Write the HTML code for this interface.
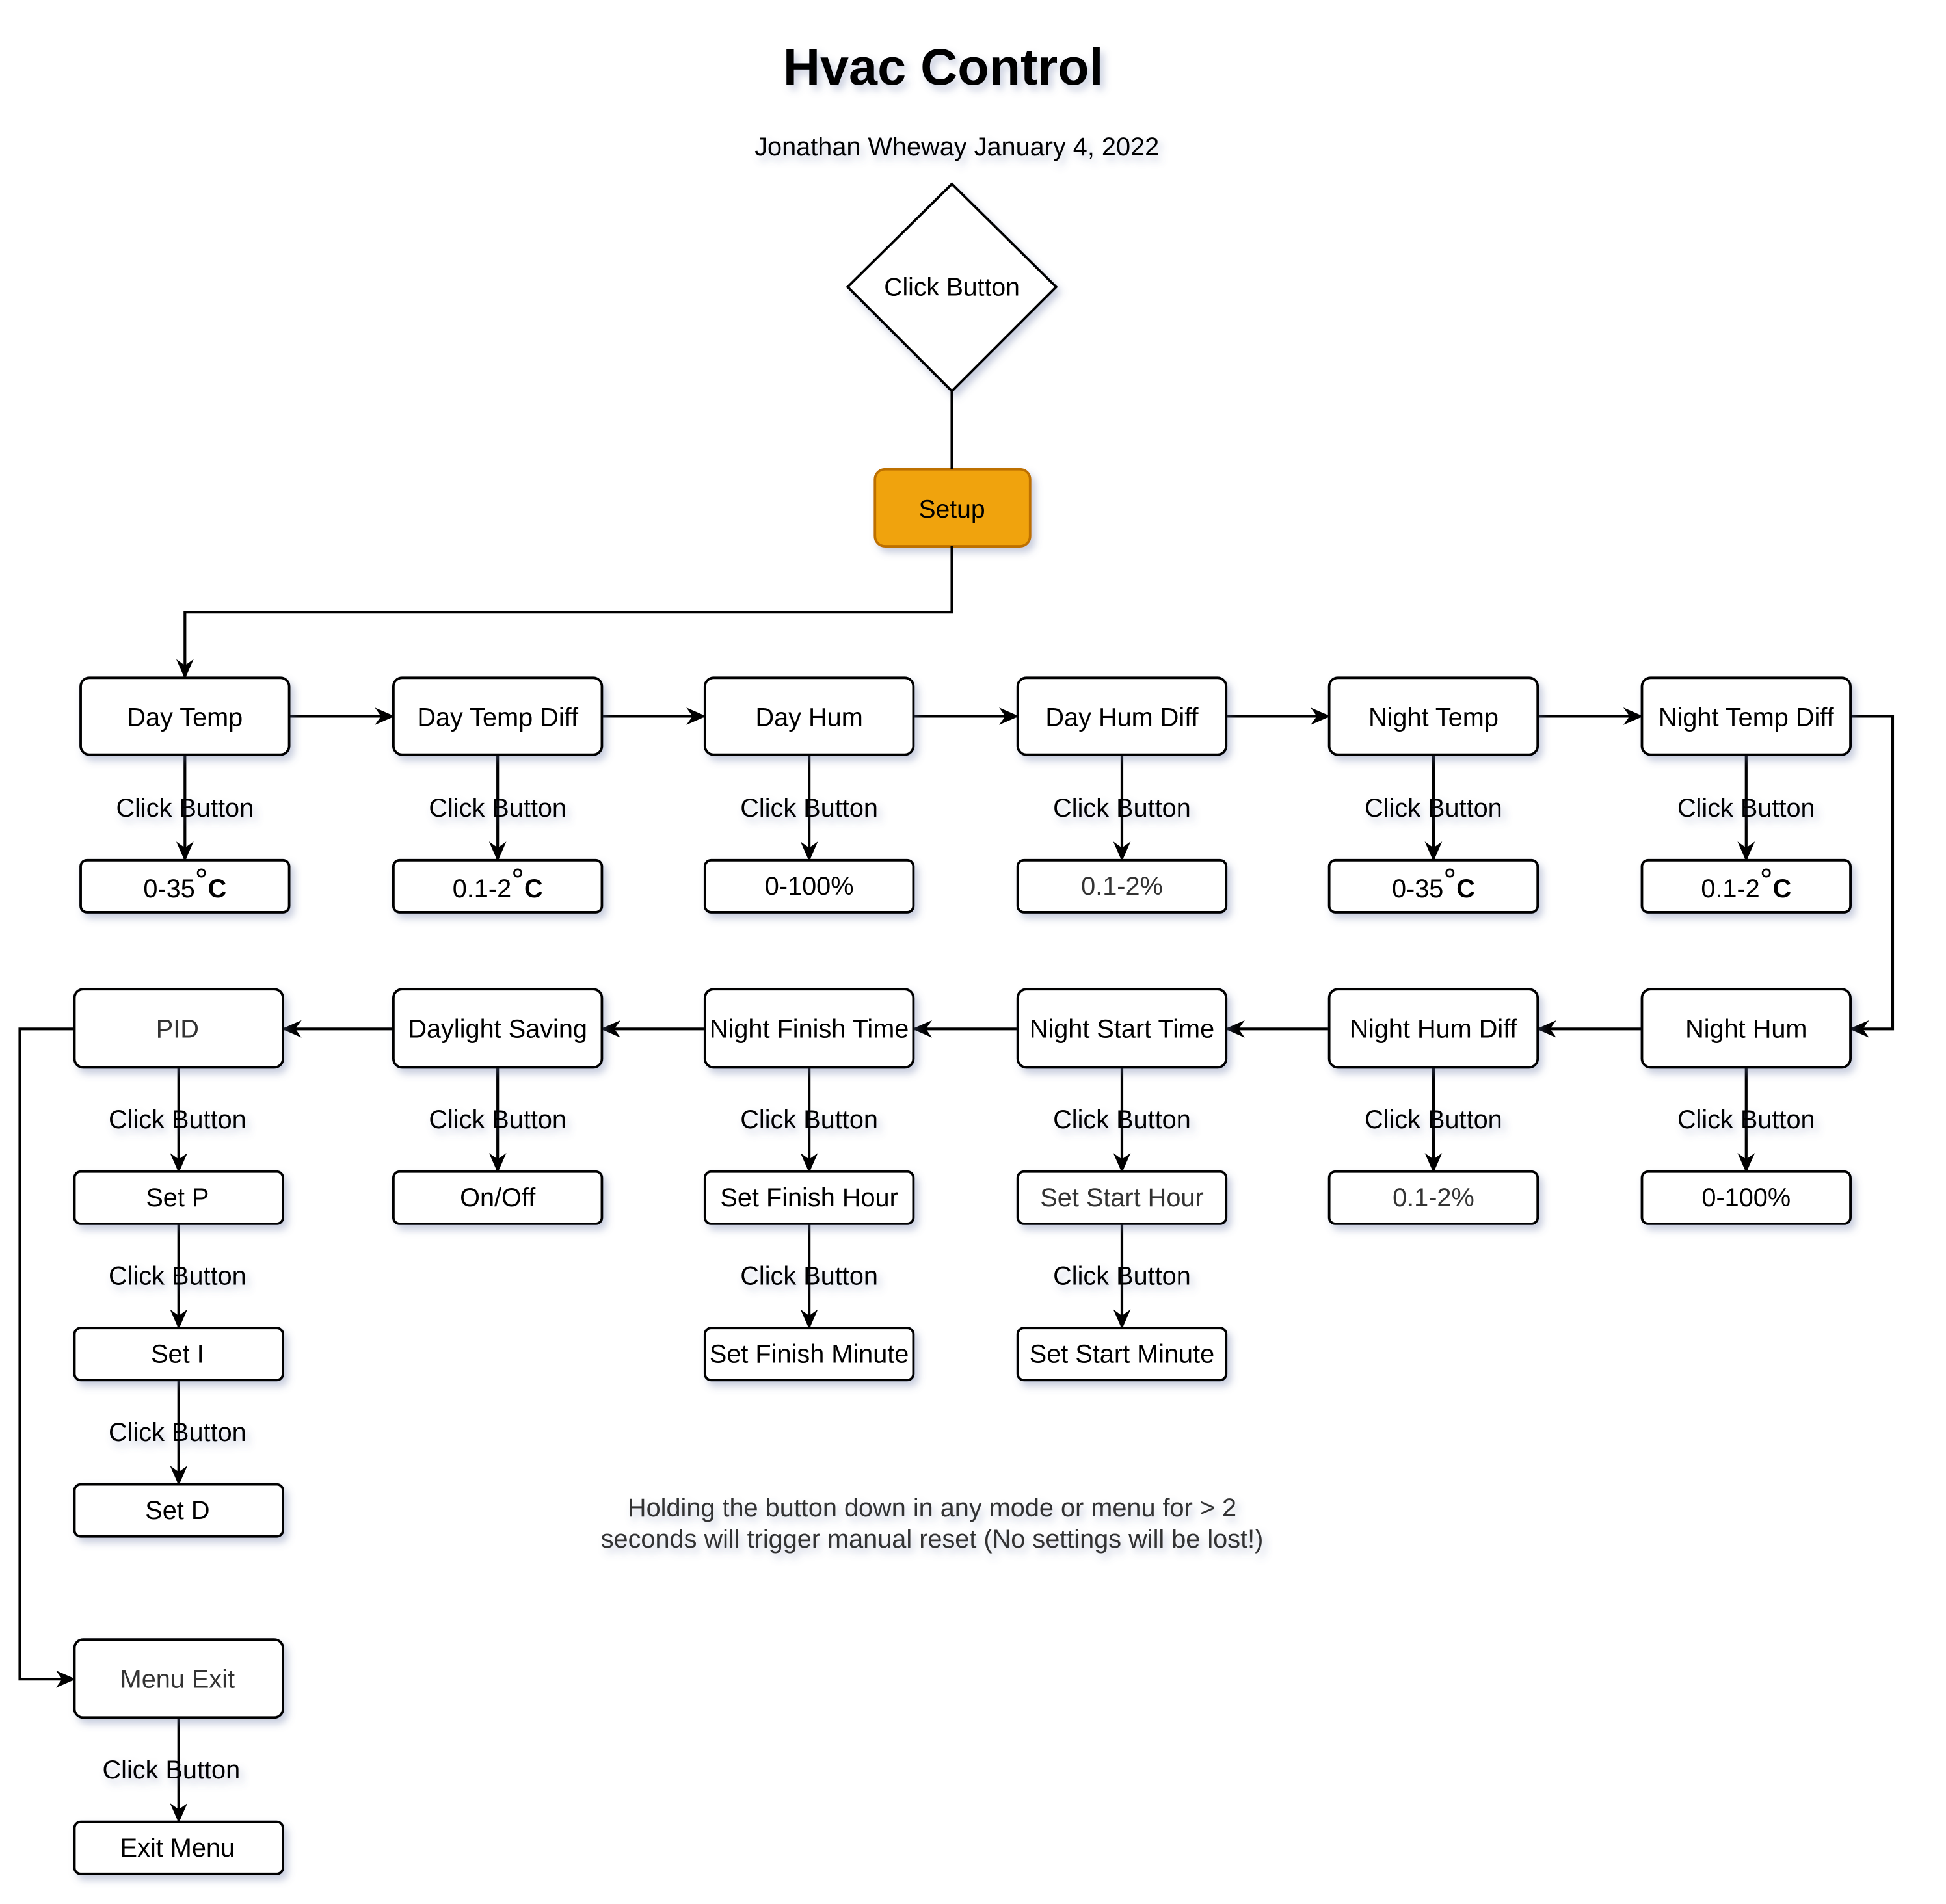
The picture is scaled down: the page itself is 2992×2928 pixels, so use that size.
<!DOCTYPE html>
<html><head><meta charset="utf-8"><style>html,body{margin:0;padding:0;background:#fff}svg{display:block}</style></head>
<body>
<svg xmlns="http://www.w3.org/2000/svg" width="2992" height="2928" viewBox="0 0 1568 1534" font-family="Liberation Sans, Arial, sans-serif">
<defs>
<filter id="sh" x="-20%" y="-20%" width="150%" height="160%"><feDropShadow dx="3" dy="4" stdDeviation="3" flood-color="#6070a0" flood-opacity="0.35"/></filter>
<marker id="ar" markerWidth="16" markerHeight="14" refX="15" refY="7" orient="auto" markerUnits="userSpaceOnUse" viewBox="0 0 16 14"><path d="M0,0 L16,7 L0,14 L5,7 Z" fill="#000"/></marker>
</defs>
<g filter="url(#sh)">
<text x="760" y="68" text-anchor="middle" font-size="41.5" font-weight="bold">Hvac Control</text>
<text x="771" y="125" text-anchor="middle" font-size="20.8">Jonathan Wheway January 4, 2022</text>
<path d="M767,148 L851,231 L767,315 L683,231 Z" fill="#fff" stroke="#000" stroke-width="2"/>
<text x="767" y="238" text-anchor="middle" font-size="20.5">Click Button</text>
<rect x="705" y="378" width="125" height="62" rx="8" fill="#f0a30a" stroke="#bd7000" stroke-width="2"/>
<text x="767" y="417" text-anchor="middle" font-size="20.5">Setup</text>
</g>
<g stroke="#000" stroke-width="2.2" fill="none">
<path d="M767,315 V378"/>
<path d="M767,440 V493 H149 V546" marker-end="url(#ar)"/>
<path d="M233,577 H317" marker-end="url(#ar)"/>
<path d="M485,577 H568" marker-end="url(#ar)"/>
<path d="M736,577 H820" marker-end="url(#ar)"/>
<path d="M988,577 H1071" marker-end="url(#ar)"/>
<path d="M1239,577 H1323" marker-end="url(#ar)"/>
<path d="M1491,577 H1525 V829 H1491" marker-end="url(#ar)"/>
<path d="M1323,829 H1239" marker-end="url(#ar)"/>
<path d="M1071,829 H988" marker-end="url(#ar)"/>
<path d="M820,829 H736" marker-end="url(#ar)"/>
<path d="M568,829 H485" marker-end="url(#ar)"/>
<path d="M317,829 H228" marker-end="url(#ar)"/>
<path d="M60,829 H16 V1353 H60" marker-end="url(#ar)"/>
<path d="M149,608 V693" marker-end="url(#ar)"/>
<path d="M401,608 V693" marker-end="url(#ar)"/>
<path d="M652,608 V693" marker-end="url(#ar)"/>
<path d="M904,608 V693" marker-end="url(#ar)"/>
<path d="M1155,608 V693" marker-end="url(#ar)"/>
<path d="M1407,608 V693" marker-end="url(#ar)"/>
<path d="M144,860 V944" marker-end="url(#ar)"/>
<path d="M401,860 V944" marker-end="url(#ar)"/>
<path d="M652,860 V944" marker-end="url(#ar)"/>
<path d="M904,860 V944" marker-end="url(#ar)"/>
<path d="M1155,860 V944" marker-end="url(#ar)"/>
<path d="M1407,860 V944" marker-end="url(#ar)"/>
<path d="M144,986 V1070" marker-end="url(#ar)"/>
<path d="M652,986 V1070" marker-end="url(#ar)"/>
<path d="M904,986 V1070" marker-end="url(#ar)"/>
<path d="M144,1112 V1196" marker-end="url(#ar)"/>
<path d="M144,1384 V1468" marker-end="url(#ar)"/>
</g>
<g filter="url(#sh)" fill="#fff" stroke="#000" stroke-width="2">
<rect x="65" y="546" width="168" height="62" rx="7"/><rect x="317" y="546" width="168" height="62" rx="7"/><rect x="568" y="546" width="168" height="62" rx="7"/><rect x="820" y="546" width="168" height="62" rx="7"/><rect x="1071" y="546" width="168" height="62" rx="7"/><rect x="1323" y="546" width="168" height="62" rx="7"/>
<rect x="65" y="693" width="168" height="42" rx="5"/><rect x="317" y="693" width="168" height="42" rx="5"/><rect x="568" y="693" width="168" height="42" rx="5"/><rect x="820" y="693" width="168" height="42" rx="5"/><rect x="1071" y="693" width="168" height="42" rx="5"/><rect x="1323" y="693" width="168" height="42" rx="5"/>
<rect x="60" y="797" width="168" height="63" rx="7"/><rect x="317" y="797" width="168" height="63" rx="7"/><rect x="568" y="797" width="168" height="63" rx="7"/><rect x="820" y="797" width="168" height="63" rx="7"/><rect x="1071" y="797" width="168" height="63" rx="7"/><rect x="1323" y="797" width="168" height="63" rx="7"/>
<rect x="60" y="944" width="168" height="42" rx="5"/><rect x="317" y="944" width="168" height="42" rx="5"/><rect x="568" y="944" width="168" height="42" rx="5"/><rect x="820" y="944" width="168" height="42" rx="5"/><rect x="1071" y="944" width="168" height="42" rx="5"/><rect x="1323" y="944" width="168" height="42" rx="5"/>
<rect x="60" y="1070" width="168" height="42" rx="5"/><rect x="568" y="1070" width="168" height="42" rx="5"/><rect x="820" y="1070" width="168" height="42" rx="5"/>
<rect x="60" y="1196" width="168" height="42" rx="5"/>
<rect x="60" y="1321" width="168" height="63" rx="7"/>
<rect x="60" y="1468" width="168" height="42" rx="5"/>
</g>
<g font-size="20.8" text-anchor="middle" fill="#000">
<text x="149" y="585">Day Temp</text><text x="401" y="585">Day Temp Diff</text><text x="652" y="585">Day Hum</text><text x="904" y="585">Day Hum Diff</text><text x="1155" y="585">Night Temp</text><text x="1407" y="585">Night Temp Diff</text>
<text x="149" y="723">0-35<tspan dy="-5" font-size="26">°</tspan><tspan dy="5" font-weight="bold">C</tspan></text><text x="401" y="723">0.1-2<tspan dy="-5" font-size="26">°</tspan><tspan dy="5" font-weight="bold">C</tspan></text><text x="652" y="721">0-100%</text><text x="904" y="721" fill="#333">0.1-2%</text><text x="1155" y="723">0-35<tspan dy="-5" font-size="26">°</tspan><tspan dy="5" font-weight="bold">C</tspan></text><text x="1407" y="723">0.1-2<tspan dy="-5" font-size="26">°</tspan><tspan dy="5" font-weight="bold">C</tspan></text>
<text x="143" y="836" fill="#333">PID</text><text x="401" y="836">Daylight Saving</text><text x="652" y="836">Night Finish Time</text><text x="904" y="836">Night Start Time</text><text x="1155" y="836">Night Hum Diff</text><text x="1407" y="836">Night Hum</text>
<text x="143" y="972">Set P</text><text x="401" y="972">On/Off</text><text x="652" y="972">Set Finish Hour</text><text x="904" y="972" fill="#333">Set Start Hour</text><text x="1155" y="972" fill="#333">0.1-2%</text><text x="1407" y="972">0-100%</text>
<text x="143" y="1098">Set I</text><text x="652" y="1098">Set Finish Minute</text><text x="904" y="1098">Set Start Minute</text>
<text x="143" y="1224">Set D</text>
<text x="143" y="1360" fill="#333">Menu Exit</text>
<text x="143" y="1496">Exit Menu</text>
<g filter="url(#sh)">
<text x="149" y="658">Click Button</text><text x="401" y="658">Click Button</text><text x="652" y="658">Click Button</text><text x="904" y="658">Click Button</text><text x="1155" y="658">Click Button</text><text x="1407" y="658">Click Button</text>
<text x="143" y="909">Click Button</text><text x="401" y="909">Click Button</text><text x="652" y="909">Click Button</text><text x="904" y="909">Click Button</text><text x="1155" y="909">Click Button</text><text x="1407" y="909">Click Button</text>
<text x="143" y="1035">Click Button</text><text x="652" y="1035">Click Button</text><text x="904" y="1035">Click Button</text>
<text x="143" y="1161">Click Button</text>
<text x="138" y="1433">Click Button</text>
<text x="751" y="1222" fill="#333">Holding the button down in any mode or menu for &gt; 2</text>
<text x="751" y="1247" fill="#333">seconds will trigger manual reset (No settings will be lost!)</text>
</g>
</g>
</svg>
</body></html>
